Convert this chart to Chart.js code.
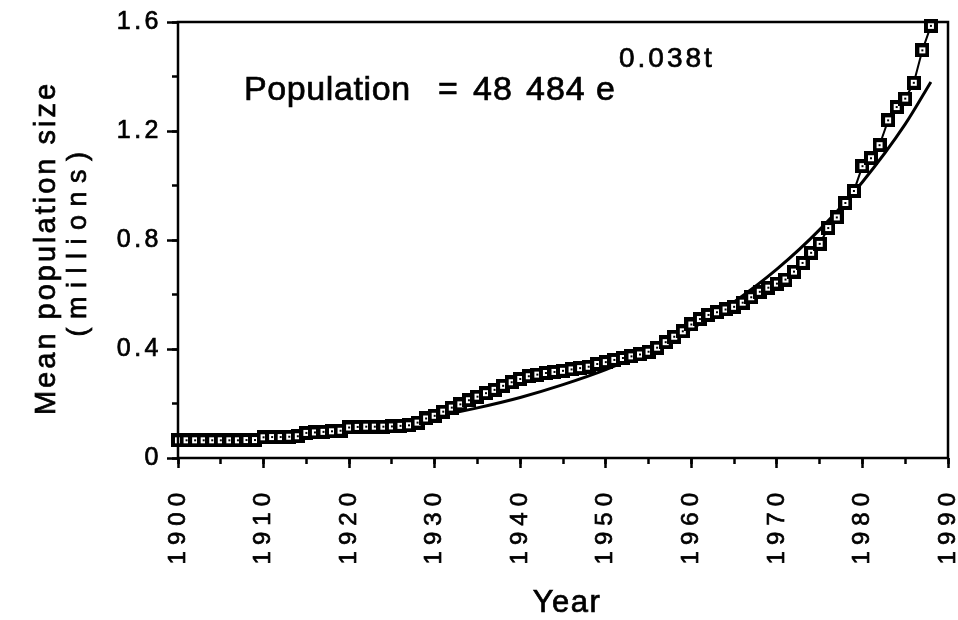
<!DOCTYPE html>
<html lang="en">
<head>
<meta charset="UTF-8">
<title>Mean population size</title>
<script src="https://cdn.jsdelivr.net/npm/chart.js"></script>
<style>
  body { margin: 0; background: #ffffff; }
  canvas { display: block; }
</style>
</head>
<body>
<canvas id="popChart" width="958" height="620"></canvas>
<script>
// yearly means, 1900 - 1988 (millions)
var years = [];
for (var yr = 1900; yr <= 1988; yr++) years.push(yr);

var popMillions = [
  0.065, 0.065, 0.065, 0.065, 0.065, 0.065, 0.065, 0.065, 0.066, 0.066,
  0.076, 0.077, 0.077, 0.078, 0.080, 0.092, 0.094, 0.096, 0.098, 0.100,
  0.112, 0.114, 0.115, 0.115, 0.115, 0.116, 0.118, 0.120, 0.130, 0.145,
  0.155, 0.170, 0.185, 0.197, 0.212, 0.225, 0.238, 0.250, 0.265, 0.278,
  0.290, 0.300, 0.306, 0.312, 0.316, 0.320, 0.325, 0.330, 0.335, 0.345,
  0.352, 0.360, 0.367, 0.373, 0.380, 0.390, 0.405, 0.425, 0.445, 0.465,
  0.490, 0.510, 0.525, 0.535, 0.545, 0.555, 0.570, 0.590, 0.610, 0.625,
  0.640, 0.655, 0.684, 0.716, 0.753, 0.786, 0.844, 0.883, 0.936, 0.980,
  1.071, 1.100, 1.148, 1.239, 1.288, 1.319, 1.377, 1.496, 1.586
];

// fitted exponential curve
var fitYears = [1900, 1905, 1910, 1915, 1920, 1925, 1930, 1935, 1940, 1945,
                1950, 1955, 1960, 1965, 1970, 1975, 1980, 1985, 1988];
var fitMillions = [0.048, 0.059, 0.071, 0.086, 0.104, 0.126, 0.152, 0.184, 0.222, 0.269,
                   0.324, 0.392, 0.474, 0.573, 0.693, 0.838, 1.013, 1.225, 1.380];

var yearRange = [1900, 1990];
var popRange = [0, 1.6];

var FONT = '"Liberation Sans", Arial, sans-serif';

// boxed square marker with a dot in the middle
function squareMarker() {
  var c = document.createElement('canvas');
  c.width = 14; c.height = 14;
  var g = c.getContext('2d');
  g.fillStyle = '#000';
  g.fillRect(0, 0, 14, 14);
  g.fillStyle = '#fff';
  g.fillRect(4, 4, 6, 6);
  g.fillStyle = '#000';
  g.fillRect(6, 6, 2, 2);
  return c;
}

var observed = years.map(function (y, i) { return { x: y, y: popMillions[i] }; });
var fitted = fitYears.map(function (y, i) { return { x: y, y: fitMillions[i] }; });

// x tick labels drawn before datasets, y tick labels after: lets each get its own spacing
var spacingPlugin = {
  id: 'spacing',
  beforeDraw: function (chart) { chart.ctx.letterSpacing = '6px'; },
  beforeDatasetsDraw: function (chart) { chart.ctx.letterSpacing = '3.5px'; }
};

function heavyText(ctx, str, x, y) {
  ctx.strokeText(str, x, y);
  ctx.fillText(str, x, y);
}

var framePlugin = {
  id: 'frame',
  afterDraw: function (chart) {
    var ctx = chart.ctx;
    var a = chart.chartArea;
    ctx.save();
    ctx.strokeStyle = '#000';
    ctx.lineWidth = 2.5;
    ctx.strokeRect(a.left, a.top, a.right - a.left, a.bottom - a.top);

    ctx.fillStyle = '#000';
    ctx.lineWidth = 0.7;
    ctx.textBaseline = 'alphabetic';

    // equation
    ctx.font = '34px ' + FONT;
    ctx.letterSpacing = '0.6px';
    ctx.textAlign = 'left';
    heavyText(ctx, 'Population', 244, 100);
    ctx.letterSpacing = '1px';
    heavyText(ctx, '=', 438, 100);
    heavyText(ctx, '48', 473, 100);
    heavyText(ctx, '484', 526, 100);
    heavyText(ctx, 'e', 596, 100);
    ctx.font = '28px ' + FONT;
    ctx.letterSpacing = '3px';
    heavyText(ctx, '0.038t', 619, 67);

    // x title
    ctx.font = '31px ' + FONT;
    ctx.letterSpacing = '1.5px';
    ctx.textAlign = 'center';
    heavyText(ctx, 'Year', 567, 612);

    // y title, two lines reading upwards
    ctx.save();
    ctx.translate(55, 248);
    ctx.rotate(-Math.PI / 2);
    ctx.font = '29px ' + FONT;
    ctx.letterSpacing = '3px';
    heavyText(ctx, 'Mean population size', 0, 0);
    ctx.restore();
    ctx.save();
    ctx.translate(86, 240);
    ctx.rotate(-Math.PI / 2);
    ctx.font = '27px ' + FONT;
    ctx.letterSpacing = '8.5px';
    heavyText(ctx, '(millions)', 0, 0);
    ctx.restore();

    ctx.restore();
  }
};

new Chart(document.getElementById('popChart'), {
  type: 'line',
  data: {
    datasets: [{
      data: observed,
      borderColor: '#000',
      borderWidth: 2,
      pointStyle: squareMarker(),
      tension: 0,
      clip: false
    }, {
      data: fitted,
      borderColor: '#000',
      borderWidth: 3,
      pointRadius: 0,
      cubicInterpolationMode: 'monotone',
      clip: false
    }]
  },
  options: {
    responsive: false,
    animation: false,
    events: [],
    layout: { padding: { left: 0, right: 10, top: 22, bottom: 0 } },
    plugins: { legend: { display: false }, tooltip: { enabled: false } },
    scales: {
      x: {
        type: 'linear',
        position: 'bottom',
        min: yearRange[0], max: yearRange[1],
        border: { display: false },
        grid: { drawOnChartArea: false, drawTicks: true, tickLength: 10, tickColor: '#000', tickWidth: 2.5 },
        ticks: {
          stepSize: 10,
          autoSkip: false,
          minRotation: 90, maxRotation: 90,
          padding: 19,
          color: '#000',
          textStrokeColor: '#000',
          textStrokeWidth: 0.7,
          font: { family: FONT, size: 24 },
          callback: function (v) { return String(v); }
        },
        afterFit: function (s) { s.height = 162; s.paddingLeft = 0; s.paddingRight = 0; }
      },
      xMinor: {
        type: 'linear',
        position: 'bottom',
        weight: -1,
        min: yearRange[0], max: yearRange[1],
        border: { display: false },
        grid: { drawOnChartArea: false, drawTicks: true, tickLength: 6, tickColor: '#000', tickWidth: 2.5 },
        ticks: { stepSize: 5, autoSkip: false, maxRotation: 0, callback: function () { return ''; } },
        afterFit: function (s) { s.height = 0; s.paddingLeft = 0; s.paddingRight = 0; }
      },
      y: {
        type: 'linear',
        position: 'left',
        min: popRange[0], max: popRange[1],
        border: { display: false },
        grid: { drawOnChartArea: false, drawTicks: true, tickLength: 11, tickColor: '#000', tickWidth: 2.5 },
        ticks: {
          stepSize: 0.4,
          padding: 5,
          z: 1,
          color: '#000',
          textStrokeColor: '#000',
          textStrokeWidth: 0.7,
          font: { family: FONT, size: 25 },
          callback: function (v) { return v === 0 ? '0' : v.toFixed(1); }
        },
        afterFit: function (s) { s.width = 178; s.paddingTop = 0; s.paddingBottom = 0; }
      },
      yMinor: {
        type: 'linear',
        position: 'left',
        weight: -1,
        min: popRange[0], max: popRange[1],
        border: { display: false },
        grid: { drawOnChartArea: false, drawTicks: true, tickLength: 6, tickColor: '#000', tickWidth: 2.5 },
        ticks: { stepSize: 0.2, callback: function () { return ''; } },
        afterFit: function (s) { s.width = 0; s.paddingTop = 0; s.paddingBottom = 0; }
      }
    }
  },
  plugins: [spacingPlugin, framePlugin]
});
</script>
</body>
</html>
